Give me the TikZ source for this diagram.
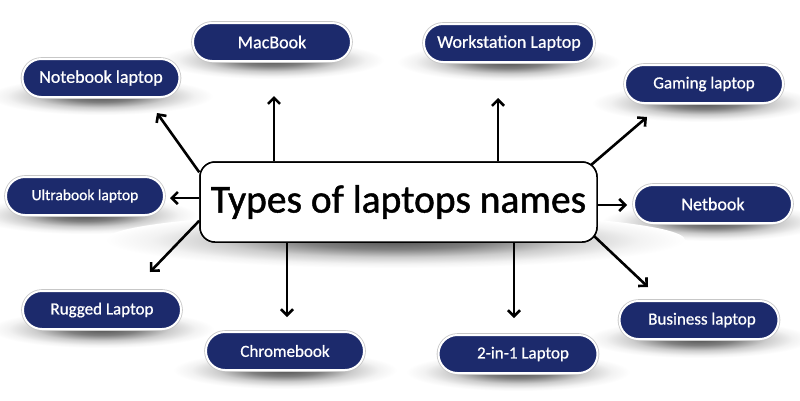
\documentclass[tikz,border=0pt]{standalone}
\usepackage{fontspec}
\setmainfont{Carlito}
\newfontfamily\hubfont{Carlito}[FakeBold=1.2]
\newfontfamily\lblfont{Carlito}[FakeBold=0.7]
\usetikzlibrary{arrows.meta}
\definecolor{navy}{HTML}{1C2A6C}
\pgfdeclareradialshading{softshadow}{\pgfpoint{0bp}{0bp}}{color(0bp)=(black!68); color(8bp)=(black!50); color(15bp)=(black!20); color(21bp)=(black!5); color(25bp)=(white); color(50bp)=(white)}
\begin{document}
\begin{tikzpicture}[x=1pt,y=-1pt,
  lbl/.style={rectangle, rounded corners=19pt, minimum width=158pt, minimum height=38pt,
    fill=navy, draw=white, line width=2pt, text=white, inner sep=0pt,
    font=\lblfont\fontsize{17}{20}\selectfont, preaction={draw=black!22, line width=3.6pt}},
  hub/.style={rectangle, rounded corners=15pt, minimum width=397pt, minimum height=80pt,
    fill=white, draw=black, line width=1.5pt, inner sep=0pt,
    font=\hubfont\fontsize{39.5}{44}\selectfont},
  arr/.style={line width=2.6pt, -{Straight Barb[length=6pt,width=12pt]}}]
\useasboundingbox (0,0) rectangle (800,400);
\fill[white] (0,0) rectangle (800,400);
% shadows
\foreach \cx/\by in {101/97, 272/61, 509/63, 704/104, 85/216, 713/223, 102/330, 285/371, 518/373, 699/340}
  \shade[shading=softshadow] (\cx,{\by-1}) ellipse [x radius=112pt, y radius=19pt];
\shade[shading=softshadow] (395,240) ellipse [x radius=290pt, y radius=28pt];
% central box
\node[hub] (c) at (398.5,202) {\raisebox{3pt}{Types of laptops names}};
% arrow tips
\coordinate (tNote) at (157,113);
\coordinate (tMac) at (274,96);
\coordinate (tWork) at (498,98);
\coordinate (tGame) at (647,117);
\coordinate (tUltra) at (170,198);
\coordinate (tNet) at (627,205);
\coordinate (tRug) at (150,272);
\coordinate (tChr) at (287,317);
\coordinate (t21) at (514,318);
\coordinate (tBus) at (648,287);
% arrows
\draw[arr] ([yshift=-11pt]c.north west) -- (tNote);
\draw[arr] (c.north -| tMac) -- (tMac);
\draw[arr] (c.north -| tWork) -- (tWork);
\draw[arr] ([xshift=-7pt,yshift=-4pt]c.north east) -- (tGame);
\draw[arr] (c.west |- tUltra) -- (tUltra);
\draw[arr] (c.east |- tNet) -- (tNet);
\draw[arr] ([yshift=22pt]c.south west) -- (tRug);
\draw[arr] (c.south -| tChr) -- (tChr);
\draw[arr] (c.south -| t21) -- (t21);
\draw[arr] ([xshift=-4pt,yshift=7pt]c.south east) -- (tBus);
% redraw central box on top of line starts
\node[hub] at (c) {\raisebox{3pt}{Types of laptops names}};
% labels
\node[lbl, minimum width=157pt, font=\lblfont\fontsize{18}{21}\selectfont] (note) at (101,78) {Notebook laptop};
\node[lbl, font=\lblfont\fontsize{18}{21}\selectfont] (mac) at (272,42) {MacBook};
\node[lbl, minimum width=170pt, font=\lblfont\fontsize{18}{21}\selectfont] (work) at (509,43) {Workstation Laptop};
\node[lbl] (game) at (704,84) {Gaming laptop};
\node[lbl, font=\lblfont\fontsize{15.5}{18}\selectfont] (ultra) at (85,196) {Ultrabook laptop};
\node[lbl, font=\lblfont\fontsize{18}{21}\selectfont] (net) at (713,204) {Netbook};
\node[lbl] (rug) at (102,310) {Rugged Laptop};
\node[lbl] (chr) at (285,351) {Chromebook};
\node[lbl, minimum width=159pt] (tio) at (518,354) {\hspace*{10pt}2-in-1 Laptop};
\node[lbl, minimum width=159pt] (bus) at (699,320) {\hspace*{6pt}Business laptop};
\end{tikzpicture}
\end{document}
